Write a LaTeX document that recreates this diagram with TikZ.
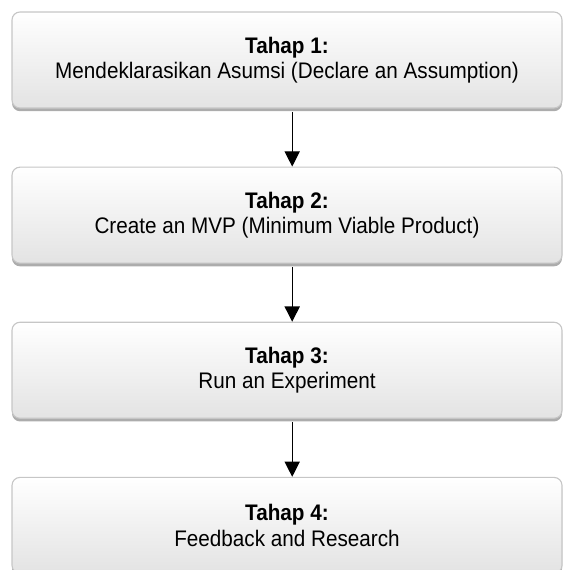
\documentclass[tikz,border=0pt]{standalone}
\usepackage{fontspec}
\setmainfont{Liberation Sans}[FakeStretch=0.92]
\usetikzlibrary{arrows.meta, positioning, shadows}

\begin{document}
\begin{tikzpicture}[
    stage/.style={draw=gray!45, line width=0.8pt, rounded corners=0.2cm,
        top color=white, bottom color=gray!22,
        drop shadow={shadow xshift=0cm, shadow yshift=-0.08cm, fill=gray!65, opacity=1},
        minimum width=13.75cm, minimum height=2.4cm, align=center,
        font=\fontsize{16}{18}\selectfont},
    arrow/.style={-{Triangle[length=0.38cm, width=0.38cm]}, line width=0.8pt, black},
    node distance=1.45cm
]

% Page frame
\useasboundingbox (0,0) rectangle (14.075,-14.25);

% Boxes
\node[stage] (tahap1) at (7.175,-1.5) {\textbf{Tahap 1:}\\Mendeklarasikan Asumsi (Declare an Assumption)};
\node[stage, below=of tahap1] (tahap2) {\textbf{Tahap 2:}\\Create an MVP (Minimum Viable Product)};
\node[stage, below=of tahap2] (tahap3) {\textbf{Tahap 3:}\\Run an Experiment};
\node[stage, below=of tahap3] (tahap4) {\textbf{Tahap 4:}\\Feedback and Research};

% Arrows between stages
\draw[arrow] ([xshift=0.13cm, yshift=-0.08cm]tahap1.south) -- ([xshift=0.13cm]tahap2.north);
\draw[arrow] ([xshift=0.13cm, yshift=-0.08cm]tahap2.south) -- ([xshift=0.13cm]tahap3.north);
\draw[arrow] ([xshift=0.13cm, yshift=-0.08cm]tahap3.south) -- ([xshift=0.13cm]tahap4.north);

\end{tikzpicture}
\end{document}
